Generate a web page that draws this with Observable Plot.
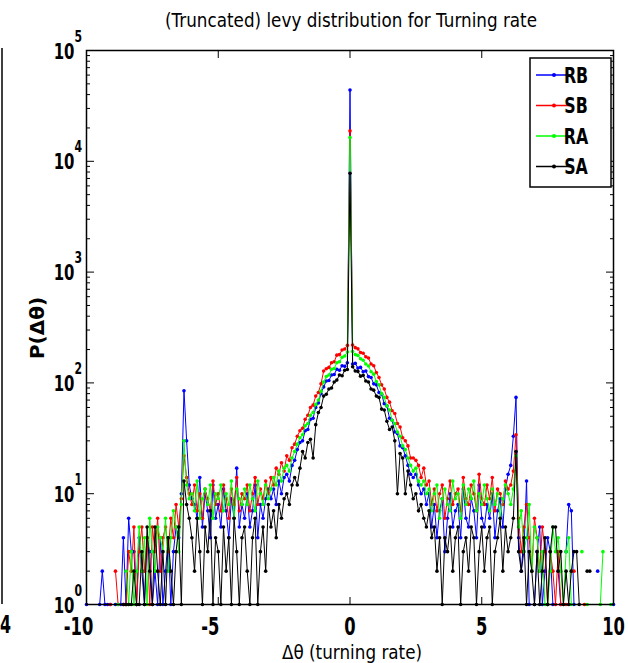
<!DOCTYPE html>
<html><head><meta charset="utf-8">
<script src="https://cdn.jsdelivr.net/npm/d3@7"></script>
<script src="https://cdn.jsdelivr.net/npm/@observablehq/plot@0.6"></script>
<style>
body{margin:0;background:#fff;}
svg{font-family:"DejaVu Sans",sans-serif;}
</style></head><body><div id="chart"></div>
<script>
// bin grid: -10 .. 10, step 0.1 (201 bins)
const xStart = -10, xStep = 0.1, nBins = 201;
const seriesNames = ["RB", "SB", "RA", "SA"];
const seriesColors = ["#0000ff", "#ff0000", "#00ff00", "#000000"];
const xTicks = [-10, -5, 0, 5, 10];
const yDecades = [1, 10, 100, 1000, 10000, 100000];
const yExponents = ["0", "1", "2", "3", "4", "5"];
const titleText = "(Truncated) levy distribution for Turning rate";
const xLabel = "\u0394\u03b8 (turning rate)";
const yLabel = "P(\u0394\u03b8)";

const RB = [
 1,0,0,0,0,1,2,1,1,1,
 0,1,0,1,4,1,6,3,3,1,
 4,2,1,4,3,1,2,1,4,1,
 2,4,1,3,5,4,10,85,30,12,
 9,8,6,14,5,10,7,4,12,6,
 8,5,11,7,4,9,6,17,5,8,
 6,10,5,7,12,4,8,6,9,11,
 9,11,8,13,10,14,15,13,18,20,
 25,29,30,37,38,47,48,60,66,80,
 92,104,105,118,119,133,130,143,141,152,
 44000,
 148,150,136,138,126,128,114,112,98,96,
 82,79,65,62,48,46,36,35,27,26,
 22,18,15,14,15,12,10,11,8,10,
 5,8,4,7,9,3,6,10,5,7,
 8,4,11,6,5,9,7,4,12,6,
 5,8,6,10,4,7,9,5,11,15,
 18,33,74,4,2,3,13,1,0,1,
 3,5,1,2,4,3,1,0,2,1,
 0,3,8,7,1,0,0,0,0,0,
 0,0,0,2,0,0,0,0,0,1
];
const SB = [
 0,0,0,0,0,0,0,0,0,1,
 0,2,1,0,1,1,3,2,5,1,
 3,5,2,4,1,5,3,6,2,4,
 5,3,6,4,8,5,9,22,14,10,
 8,12,7,10,6,11,9,7,13,8,
 10,7,12,9,6,11,8,14,7,10,
 9,12,7,10,14,8,11,9,13,10,
 14,12,17,15,19,16,22,20,26,28,
 33,37,39,47,51,60,63,76,82,98,
 128,134,138,152,155,178,180,198,202,218,
 18800,
 220,208,203,188,185,172,168,148,143,124,
 112,96,88,74,67,56,53,43,40,32,
 30,27,21,21,20,18,14,17,12,13,
 8,11,7,10,12,6,9,13,8,10,
 11,7,14,9,8,12,10,7,15,9,
 8,12,9,14,7,11,10,8,13,11,
 12,16,34,6,3,5,8,4,2,6,
 4,2,5,3,1,3,2,1,3,1,
 0,1,0,2,2,0,0,0,1,0,
 0,0,0,0,0,0,0,0,0,0
];
const RA = [
 0,0,0,0,0,0,0,0,0,0,
 0,0,1,0,0,2,1,3,1,2,
 5,2,4,1,6,3,2,5,4,3,
 6,2,4,7,5,3,8,30,12,9,
 10,7,13,6,9,11,8,12,6,10,
 9,12,7,10,8,13,6,11,9,8,
 11,8,12,9,7,13,10,8,12,9,
 11,14,12,16,13,17,18,16,21,24,
 28,32,34,41,43,51,54,64,70,84,
 102,114,118,133,135,152,155,170,175,190,
 16400,
 192,180,177,165,160,148,142,126,120,103,
 96,80,74,62,57,46,43,36,33,27,
 25,21,18,16,17,13,12,13,10,11,
 7,10,12,6,9,11,8,7,13,9,
 10,6,12,8,11,9,13,7,10,8,
 12,9,7,11,8,10,6,9,12,10,
 8,11,22,5,7,3,4,8,2,5,
 4,2,3,1,1,2,5,3,4,2,
 1,3,4,1,0,0,0,3,0,1,
 0,0,0,0,1,3,0,0,1,0
];
const SA = [
 0,0,0,0,0,0,0,0,0,0,
 0,0,0,0,1,1,1,1,2,1,
 1,3,1,5,2,1,5,2,1,3,
 1,4,2,1,3,5,1,13,8,6,
 4,2,6,3,1,5,3,7,1,4,
 3,1,5,2,4,1,6,3,1,4,
 5,2,1,4,6,1,3,5,2,8,
 5,7,4,8,6,9,10,8,12,14,
 12,17,24,21,29,31,21,42,54,60,
 76,79,88,90,102,106,118,116,130,132,
 7800,
 140,128,127,115,117,104,102,88,86,76,
 74,58,57,45,38,40,30,10,23,21,
 10,16,12,9,10,7,8,6,5,7,
 4,5,2,4,1,4,3,5,2,4,
 5,1,3,4,2,5,4,1,3,5,
 2,4,5,1,3,4,6,2,5,3,
 4,6,24,3,2,4,1,3,2,1,
 3,1,2,4,1,3,5,5,2,3,
 1,2,1,2,3,3,1,0,0,2,
 2,0,0,0,0,0,0,0,0,0
];
const seriesValues = [RB, SB, RA, SA];

const binX = d3.range(nBins).map(i => +(xStart + i * xStep).toFixed(1));
const yMinor = yDecades.slice(0, -1).flatMap(d => [2,3,4,5,6,7,8,9].map(k => d * k));

const marks = [];
seriesValues.forEach((vals, s) => {
  const rows = vals.map((v, i) => ({x: binX[i], y: v > 0 ? v : NaN}));
  marks.push(Plot.line(rows, {x: "x", y: "y", stroke: seriesColors[s], strokeWidth: 1}));
  marks.push(Plot.dot(rows.filter(d => d.y > 0), {x: "x", y: "y", r: 1.8, fill: seriesColors[s], stroke: null}));
});

const fmtX = d => (d < 0 ? "-" + Math.abs(d) : String(d));
const tickFont = {fontSize: 24, fontWeight: "bold"};

const plot = Plot.plot({
  width: 628, height: 663,
  marginLeft: 86, marginRight: 15, marginTop: 50, marginBottom: 59,
  style: {background: "#fff", color: "#000", fontFamily: "'DejaVu Sans',sans-serif"},
  x: {domain: [-10, 10]},
  y: {type: "log", domain: [1, 100000]},
  marks: [
    ...marks,
    Plot.axisX({anchor: "bottom", ticks: xTicks.filter(d => d < 0), tickSize: 0, tickPadding: 13, dx: -8, tickFormat: fmtX, label: null, ...tickFont}),
    Plot.axisX({anchor: "bottom", ticks: xTicks.filter(d => d >= 0), tickSize: 0, tickPadding: 13, tickFormat: fmtX, label: null, ...tickFont}),
    Plot.axisX({anchor: "bottom", ticks: xTicks, tickSize: -7, tickFormat: () => "", label: null}),
    Plot.axisX({anchor: "top", ticks: xTicks, tickSize: -7, tickFormat: () => "", label: null}),
    Plot.axisY({anchor: "left", ticks: yDecades, tickSize: -8, tickFormat: () => "", label: null}),
    Plot.axisY({anchor: "left", ticks: yMinor, tickSize: -4, tickFormat: () => "", label: null}),
    Plot.axisY({anchor: "right", ticks: yDecades, tickSize: -8, tickFormat: () => "", label: null}),
    Plot.axisY({anchor: "right", ticks: yMinor, tickSize: -4, tickFormat: () => "", label: null}),
    Plot.text(yDecades, {y: d => d, frameAnchor: "left", text: () => "10", textAnchor: "end", dx: -12, dy: 1, fontSize: 22, fontWeight: "bold"}),
    Plot.text(yDecades, {y: d => d, frameAnchor: "left", text: (d, i) => yExponents[i], textAnchor: "start", dx: -12, dy: -14, fontSize: 16, fontWeight: "bold"}),
    Plot.frame({stroke: "#000", strokeWidth: 1.5})
  ]
});

// horizontal squeeze of text glyphs around each text's anchor point
function squeeze(sel, k) {
  sel.each(function() {
    const t = this.getAttribute("transform") || "";
    this.setAttribute("transform", `${t} scale(${k},1)`);
  });
}

const svg = d3.select(plot);
squeeze(svg.selectAll("text"), 0.68);

svg.append("text").attr("transform", "translate(351,27) scale(0.84,1)").attr("text-anchor", "middle")
  .attr("font-size", 20).text(titleText);
svg.append("text").attr("transform", "translate(352,659) scale(0.84,1)").attr("text-anchor", "middle")
  .attr("font-size", 20).text(xLabel);
svg.append("text").attr("transform", "translate(44,328) rotate(-90)").attr("text-anchor", "middle")
  .attr("font-size", 20).attr("font-weight", "bold").text(yLabel);

// neighbouring subplot edge (cut off at the left)
svg.append("line").attr("x1", 2).attr("x2", 2).attr("y1", 48).attr("y2", 604).attr("stroke", "#000").attr("stroke-width", 1.5);
svg.append("text").attr("transform", "translate(0,633) scale(0.66,1)").attr("text-anchor", "start")
  .attr("font-size", 24).attr("font-weight", "bold").text("4");

// legend
const lg = svg.append("g");
lg.append("rect").attr("x", 530).attr("y", 58).attr("width", 81).attr("height", 129)
  .attr("fill", "#fff").attr("stroke", "#000").attr("stroke-width", 1.5);
seriesNames.forEach((name, i) => {
  const y = 75 + i * 30.5;
  lg.append("line").attr("x1", 536).attr("x2", 572).attr("y1", y).attr("y2", y).attr("stroke", seriesColors[i]).attr("stroke-width", 1.5);
  lg.append("circle").attr("cx", 554).attr("cy", y).attr("r", 2).attr("fill", seriesColors[i]);
  lg.append("text").attr("transform", `translate(576,${y}) scale(0.72,1)`).attr("dy", "0.36em")
    .attr("font-size", 22).attr("font-weight", "bold").text(name);
});

document.getElementById("chart").appendChild(plot);
</script></body></html>
